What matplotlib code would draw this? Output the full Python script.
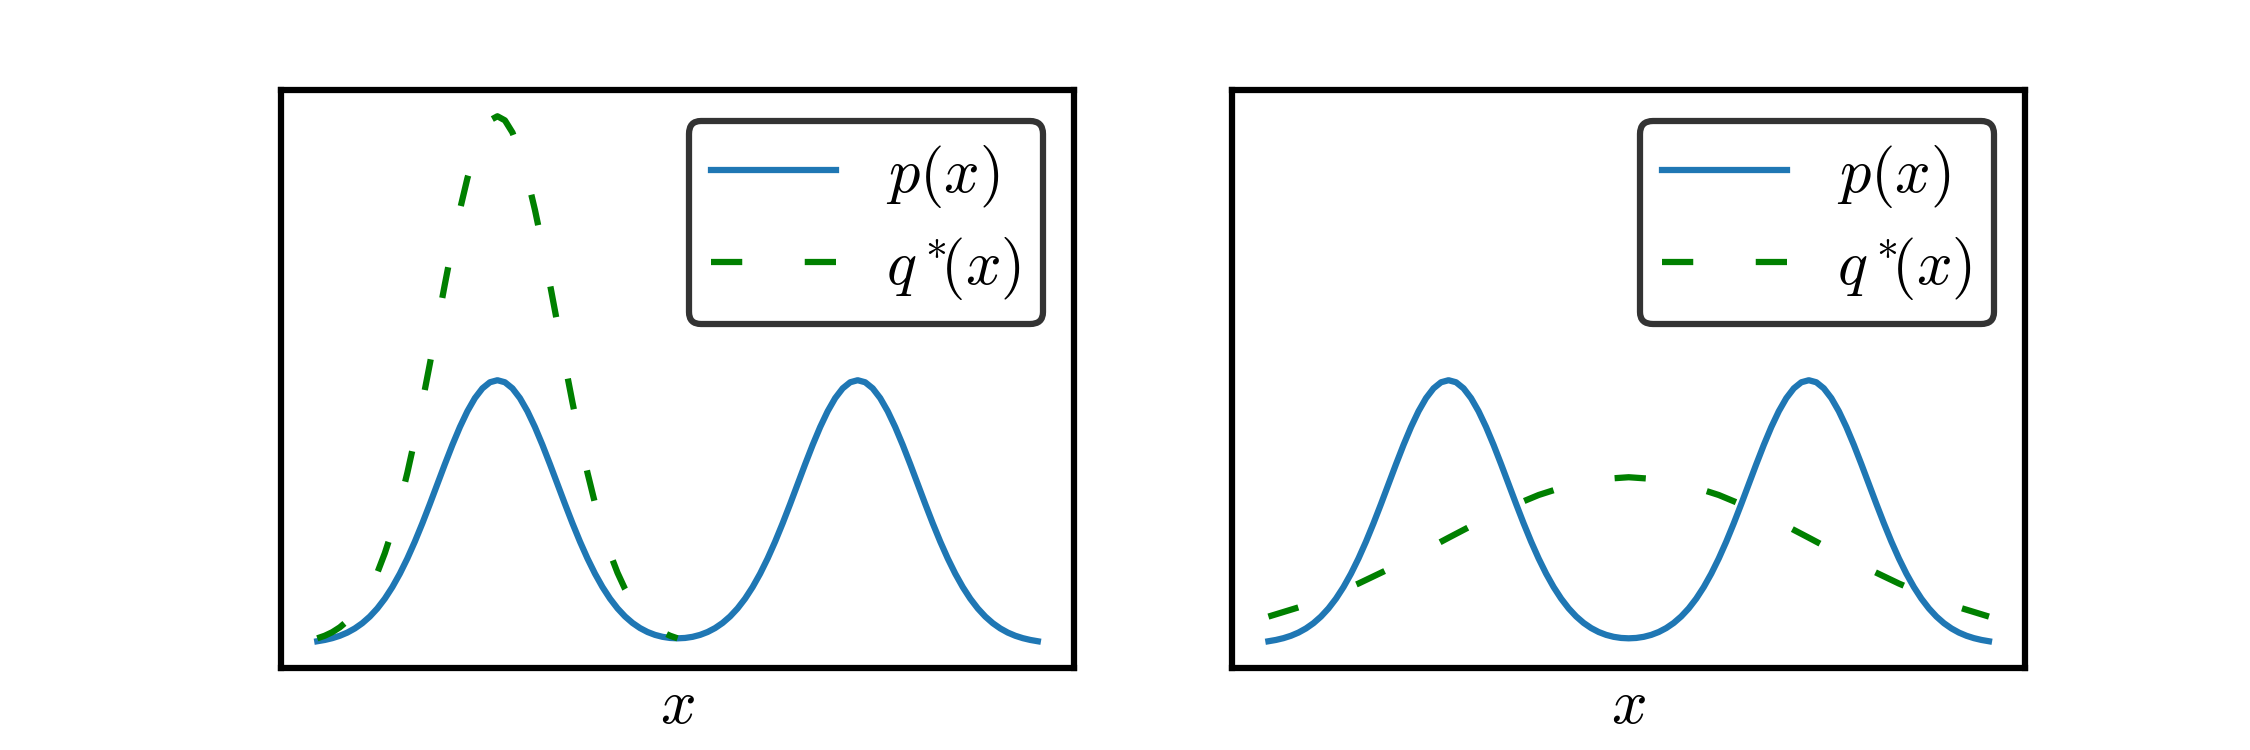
import numpy as np
import matplotlib
matplotlib.use('Agg')
import matplotlib.pyplot as plt

plt.rcParams['mathtext.fontset'] = 'cm'
plt.rcParams['font.size'] = 30

# bimodal target p(x), read every 0.125 on [-6, 0] (mirrored for x > 0)
x_p = np.linspace(-6, 6, 97)
p_half = [0.00222, 0.00320, 0.00455, 0.00636, 0.00876, 0.01189, 0.01587,
          0.02086, 0.02700, 0.03439, 0.04314, 0.05327, 0.06476, 0.07751,
          0.09133, 0.10594, 0.12099, 0.13603, 0.15057, 0.16408, 0.17603,
          0.18593, 0.19333, 0.19792, 0.19947, 0.19792, 0.19333, 0.18593,
          0.17603, 0.16408, 0.15057, 0.13603, 0.12099, 0.10594, 0.09133,
          0.07751, 0.06477, 0.05328, 0.04316, 0.03443, 0.02706, 0.02097,
          0.01605, 0.01217, 0.00920, 0.00703, 0.00556, 0.00471, 0.00443]
p_vals = p_half + p_half[-2::-1]

# mode-seeking q*(x) (left panel), only drawn on [-6, 0]
x_q_left = np.linspace(-6, 0, 49)
q_left_half = [0.00443, 0.00640, 0.00909, 0.01273, 0.01753, 0.02377, 0.03174,
               0.04172, 0.05399, 0.06879, 0.08628, 0.10654, 0.12952, 0.15501,
               0.18265, 0.21188, 0.24197, 0.27206, 0.30114, 0.32816, 0.35207,
               0.37186, 0.38667, 0.39584, 0.39894]
q_left = q_left_half + q_left_half[-2::-1]

# mass-covering q*(x) (right panel), every 0.5 on [-6, 6]
x_q_right = np.linspace(-6, 6, 25)
q_right_half = [0.02085, 0.02780, 0.03614, 0.04583, 0.05669, 0.06839,
                0.08044, 0.09230, 0.10329, 0.11273, 0.12000, 0.12459, 0.12616]
q_right = q_right_half + q_right_half[-2::-1]

fig, axes = plt.subplots(1, 2, figsize=(15, 5), dpi=150, sharey=True)

for ax, xq, q in zip(axes, [x_q_left, x_q_right], [q_left, q_right]):
    ax.plot(x_p, p_vals, color='#1f77b4', lw=3, label='$p(x)$')
    ax.plot(xq, q, color='green', lw=3, linestyle=(0, (5, 10)),
            label=r'$q^*\!\!(x)$')
    ax.set_xticks([])
    ax.set_yticks([])
    ax.set_xlabel('$x$')
    for s in ax.spines.values():
        s.set_linewidth(3)
    leg = ax.legend(loc='upper right', edgecolor='k', labelspacing=0.4,
                    handletextpad=0.8, borderpad=0.35)
    leg.get_frame().set_linewidth(3)

fig.savefig('out.png')
